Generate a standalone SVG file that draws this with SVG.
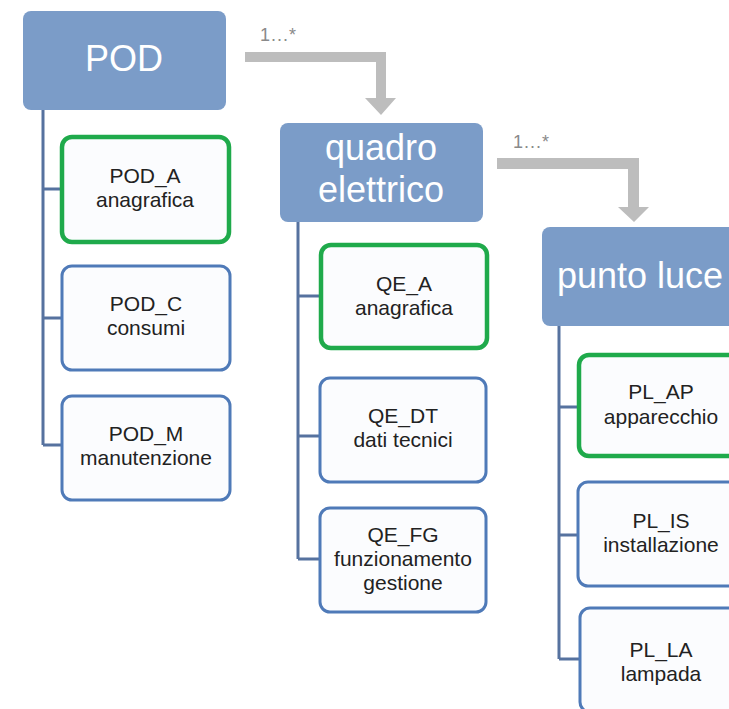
<svg xmlns="http://www.w3.org/2000/svg" width="729" height="709" viewBox="0 0 729 709">
<style>
.hdr{fill:#7B9CC8}
.htxt{font-family:"Liberation Sans",Arial,sans-serif;font-size:36px;fill:#fff;text-anchor:middle}
.box{fill:#FBFCFE;stroke:#4F7AB8;stroke-width:3}
.gbox{fill:#FBFCFE;stroke:#1FAA4B;stroke-width:4.5}
.ctxt{font-family:"Liberation Sans",Arial,sans-serif;font-size:21px;fill:#222;text-anchor:middle}
.conn{fill:none;stroke:#56729F;stroke-width:3}
.arrow{fill:#BDBDBD}
.lbl{font-family:"Liberation Sans",Arial,sans-serif;font-size:18px;fill:#8A8A8A}
</style>
<rect width="729" height="709" fill="#fff"/>
<g id="connectors">
<path class="conn" d="M43 110 V445 M43 189 H62 M43 318 H62 M43 445 H62"/>
<path class="conn" d="M298 222 V559 M298 296 H320 M298 436 H320 M298 559 H320"/>
<path class="conn" d="M559 326 V659 M559 407 H578 M559 535 H578 M559 659 H580"/>
<path class="arrow" d="M245 52 H386 V98 H396 L381 115 L365 98 H376 V62 H245 Z"/>
<text class="lbl" x="260" y="41" letter-spacing="1">1...*</text>
<path class="arrow" d="M497 158 H639 V207 H649 L634 222 L618 207 H628 V169 H497 Z"/>
<text class="lbl" x="513" y="148" letter-spacing="1">1...*</text>
</g>
<g id="POD">
<rect class="hdr" x="23" y="11" width="203" height="99" rx="8"/>
<text class="htxt" x="124" y="71" font-size="33">POD</text>
</g>
<g id="POD_A">
<rect class="gbox" x="62" y="137" width="167" height="105" rx="10"/>
<text class="ctxt" x="145" y="183">POD_A</text>
<text class="ctxt" x="145" y="207">anagrafica</text>
</g>
<g id="POD_C">
<rect class="box" x="62" y="266" width="168" height="104" rx="10"/>
<text class="ctxt" x="146" y="311">POD_C</text>
<text class="ctxt" x="146" y="335">consumi</text>
</g>
<g id="POD_M">
<rect class="box" x="62" y="396" width="168" height="104" rx="10"/>
<text class="ctxt" x="146" y="441">POD_M</text>
<text class="ctxt" x="146" y="465">manutenzione</text>
</g>
<g id="quadro">
<rect class="hdr" x="280" y="123" width="203" height="99" rx="8"/>
<text class="htxt" x="381" y="160">quadro</text>
<text class="htxt" x="381" y="202">elettrico</text>
</g>
<g id="QE_A">
<rect class="gbox" x="321" y="245" width="166" height="103" rx="10"/>
<text class="ctxt" x="404" y="291">QE_A</text>
<text class="ctxt" x="404" y="315">anagrafica</text>
</g>
<g id="QE_DT">
<rect class="box" x="320" y="378" width="166" height="104" rx="10"/>
<text class="ctxt" x="403" y="423">QE_DT</text>
<text class="ctxt" x="403" y="447">dati tecnici</text>
</g>
<g id="QE_FG">
<rect class="box" x="320" y="508" width="166" height="104" rx="10"/>
<text class="ctxt" x="403" y="542">QE_FG</text>
<text class="ctxt" x="403" y="566">funzionamento</text>
<text class="ctxt" x="403" y="590">gestione</text>
</g>
<g id="punto_luce">
<rect class="hdr" x="542" y="227" width="210" height="99" rx="8"/>
<text class="htxt" x="640" y="288">punto luce</text>
</g>
<g id="PL_AP">
<rect class="gbox" x="579" y="355" width="170" height="101" rx="10"/>
<text class="ctxt" x="661" y="399">PL_AP</text>
<text class="ctxt" x="661" y="424">apparecchio</text>
</g>
<g id="PL_IS">
<rect class="box" x="578" y="482" width="172" height="104" rx="10"/>
<text class="ctxt" x="661" y="528">PL_IS</text>
<text class="ctxt" x="661" y="552">installazione</text>
</g>
<g id="PL_LA">
<rect class="box" x="580" y="608" width="172" height="104" rx="10"/>
<text class="ctxt" x="661" y="657">PL_LA</text>
<text class="ctxt" x="661" y="681">lampada</text>
</g>
</svg>
